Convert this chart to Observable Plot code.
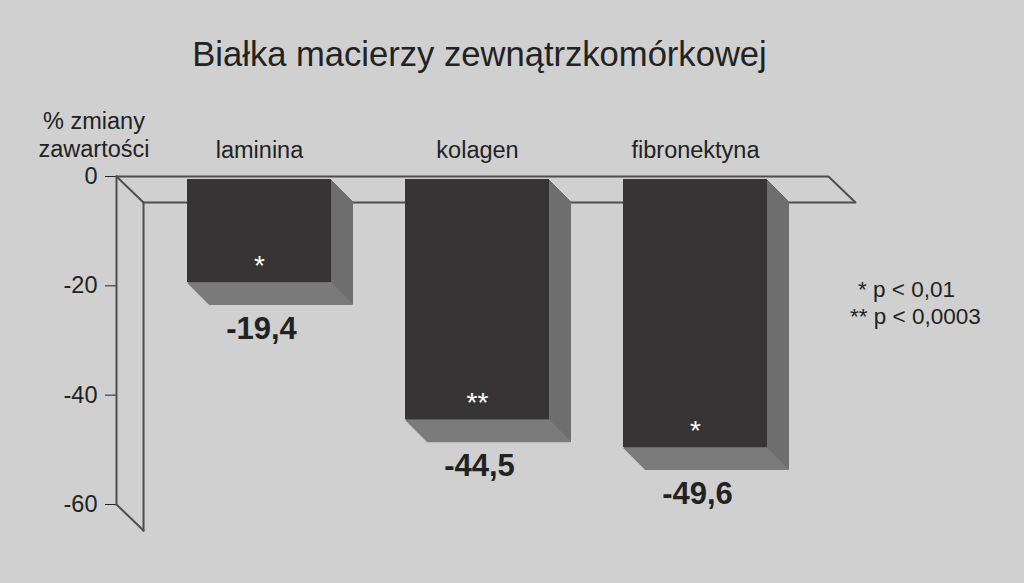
<!DOCTYPE html>
<html>
<head>
<meta charset="utf-8">
<script src="https://cdn.jsdelivr.net/npm/d3@7"></script>
<script src="https://cdn.jsdelivr.net/npm/@observablehq/plot@0.6"></script>
<style>
  html, body { margin: 0; padding: 0; background: #d0d0d0; }
  body { width: 1024px; height: 583px; overflow: hidden; position: relative;
         font-family: "Liberation Sans", Arial, sans-serif; color: #222; }
  #title { position: relative; height: 90px; }
  #title span { position: absolute; left: 0; width: 959px; top: 36.7px; text-align: center;
                font-size: 34.6px; line-height: 34.6px; white-space: nowrap; }
  #ylabel { position: absolute; left: 24px; width: 140px; top: 107px; text-align: center;
            font-size: 23.5px; line-height: 28px; white-space: nowrap; }
  .legend { position: absolute; font-size: 22.5px; line-height: 27px; white-space: nowrap; }
  #chart svg { display: block; }
</style>
</head>
<body>
<div id="title"><span>Białka macierzy zewnątrzkomórkowej</span></div>
<div id="ylabel">% zmiany<br>zawartości</div>
<div class="legend" style="left:858px; top:276px;">* p &lt; 0,01</div>
<div class="legend" style="left:850px; top:303px;">** p &lt; 0,0003</div>
<div id="chart"></div>
<script>
const categories = ["laminina", "kolagen", "fibronektyna"];
const values = [-19.4, -44.5, -49.6];
const significance = ["*", "**", "*"];
const yTicks = [0, -20, -40, -60];
const yDomain = [-60, 0];

const data = categories.map((c, i) => ({category: c, value: values[i], sig: significance[i]}));

const frameColor = "#4e4e4e";
const frontColor = "#373435";
const sideColor = "#6e6e6e";
const bottomColor = "#7b7b7b";
const depthBar = 22;
const frameDx = 27, frameDy = 26;
const diagLen = Math.hypot(frameDx, frameDy);
const diagAngle = 180 - Math.atan2(frameDx, frameDy) * 180 / Math.PI;

const sideMarks = d3.range(1, depthBar + 1).map(k =>
  Plot.rectY(data, {x: "category", y: "value", insetTop: 3, dx: k, dy: k, fill: sideColor}));
const bottomMarks = d3.range(0.7, depthBar, 1).map(k =>
  Plot.tickY(data, {x: "category", y: "value", dx: k, dy: k, stroke: bottomColor, strokeWidth: 1.4}));

const chart = Plot.plot({
  width: 1024,
  height: 493,
  marginLeft: 116,
  marginRight: 196,
  marginTop: 86,
  marginBottom: 79,
  style: {background: "transparent", fontFamily: "'Liberation Sans', Arial, sans-serif", color: "#222", fontSize: "23.5px"},
  x: {domain: categories, paddingInner: 0.34, paddingOuter: 0.3025, align: 0.538, axis: null},
  y: {domain: yDomain, ticks: yTicks, tickSize: 11, tickPadding: 8, tickFormat: d => String(d), label: null},
  marks: [
    // 3D frame: back wall and floor plane at 0
    Plot.frame({anchor: "left", stroke: frameColor, strokeWidth: 2}),
    Plot.frame({anchor: "left", stroke: frameColor, strokeWidth: 2, dx: frameDx, dy: frameDy}),
    Plot.ruleY([0], {stroke: frameColor, strokeWidth: 2}),
    Plot.ruleY([0], {stroke: frameColor, strokeWidth: 2, dx: frameDx, dy: frameDy}),
    Plot.vector([yDomain[0], yDomain[1]], {y: d => d, frameAnchor: "left", anchor: "start",
      length: diagLen, rotate: diagAngle, r: 0, stroke: frameColor, strokeWidth: 2}),
    Plot.vector([0], {y: d => d, frameAnchor: "right", anchor: "start",
      length: diagLen, rotate: diagAngle, r: 0, stroke: frameColor, strokeWidth: 2}),
    // bars: extrusion then front face
    ...sideMarks,
    ...bottomMarks,
    Plot.rectY(data, {x: "category", y: "value", insetTop: 3, fill: frontColor}),
    // significance marks
    Plot.text(data, {x: "category", y: "value", text: "sig", fill: "white", fontSize: 28,
      lineAnchor: "bottom", dy: -8}),
    // value labels
    Plot.text(data, {x: "category", y: "value", text: d => String(d.value).replace(".", ","),
      fontSize: 31, fontWeight: "bold", fill: "#222", lineAnchor: "bottom", dy: 56, dx: 2}),
    // category labels
    Plot.text(data, {x: "category", y: () => 0, text: "category", fontSize: 23.5, fill: "#222",
      lineAnchor: "bottom", dy: -19})
  ]
});
document.getElementById("chart").appendChild(chart);
</script>
</body>
</html>
